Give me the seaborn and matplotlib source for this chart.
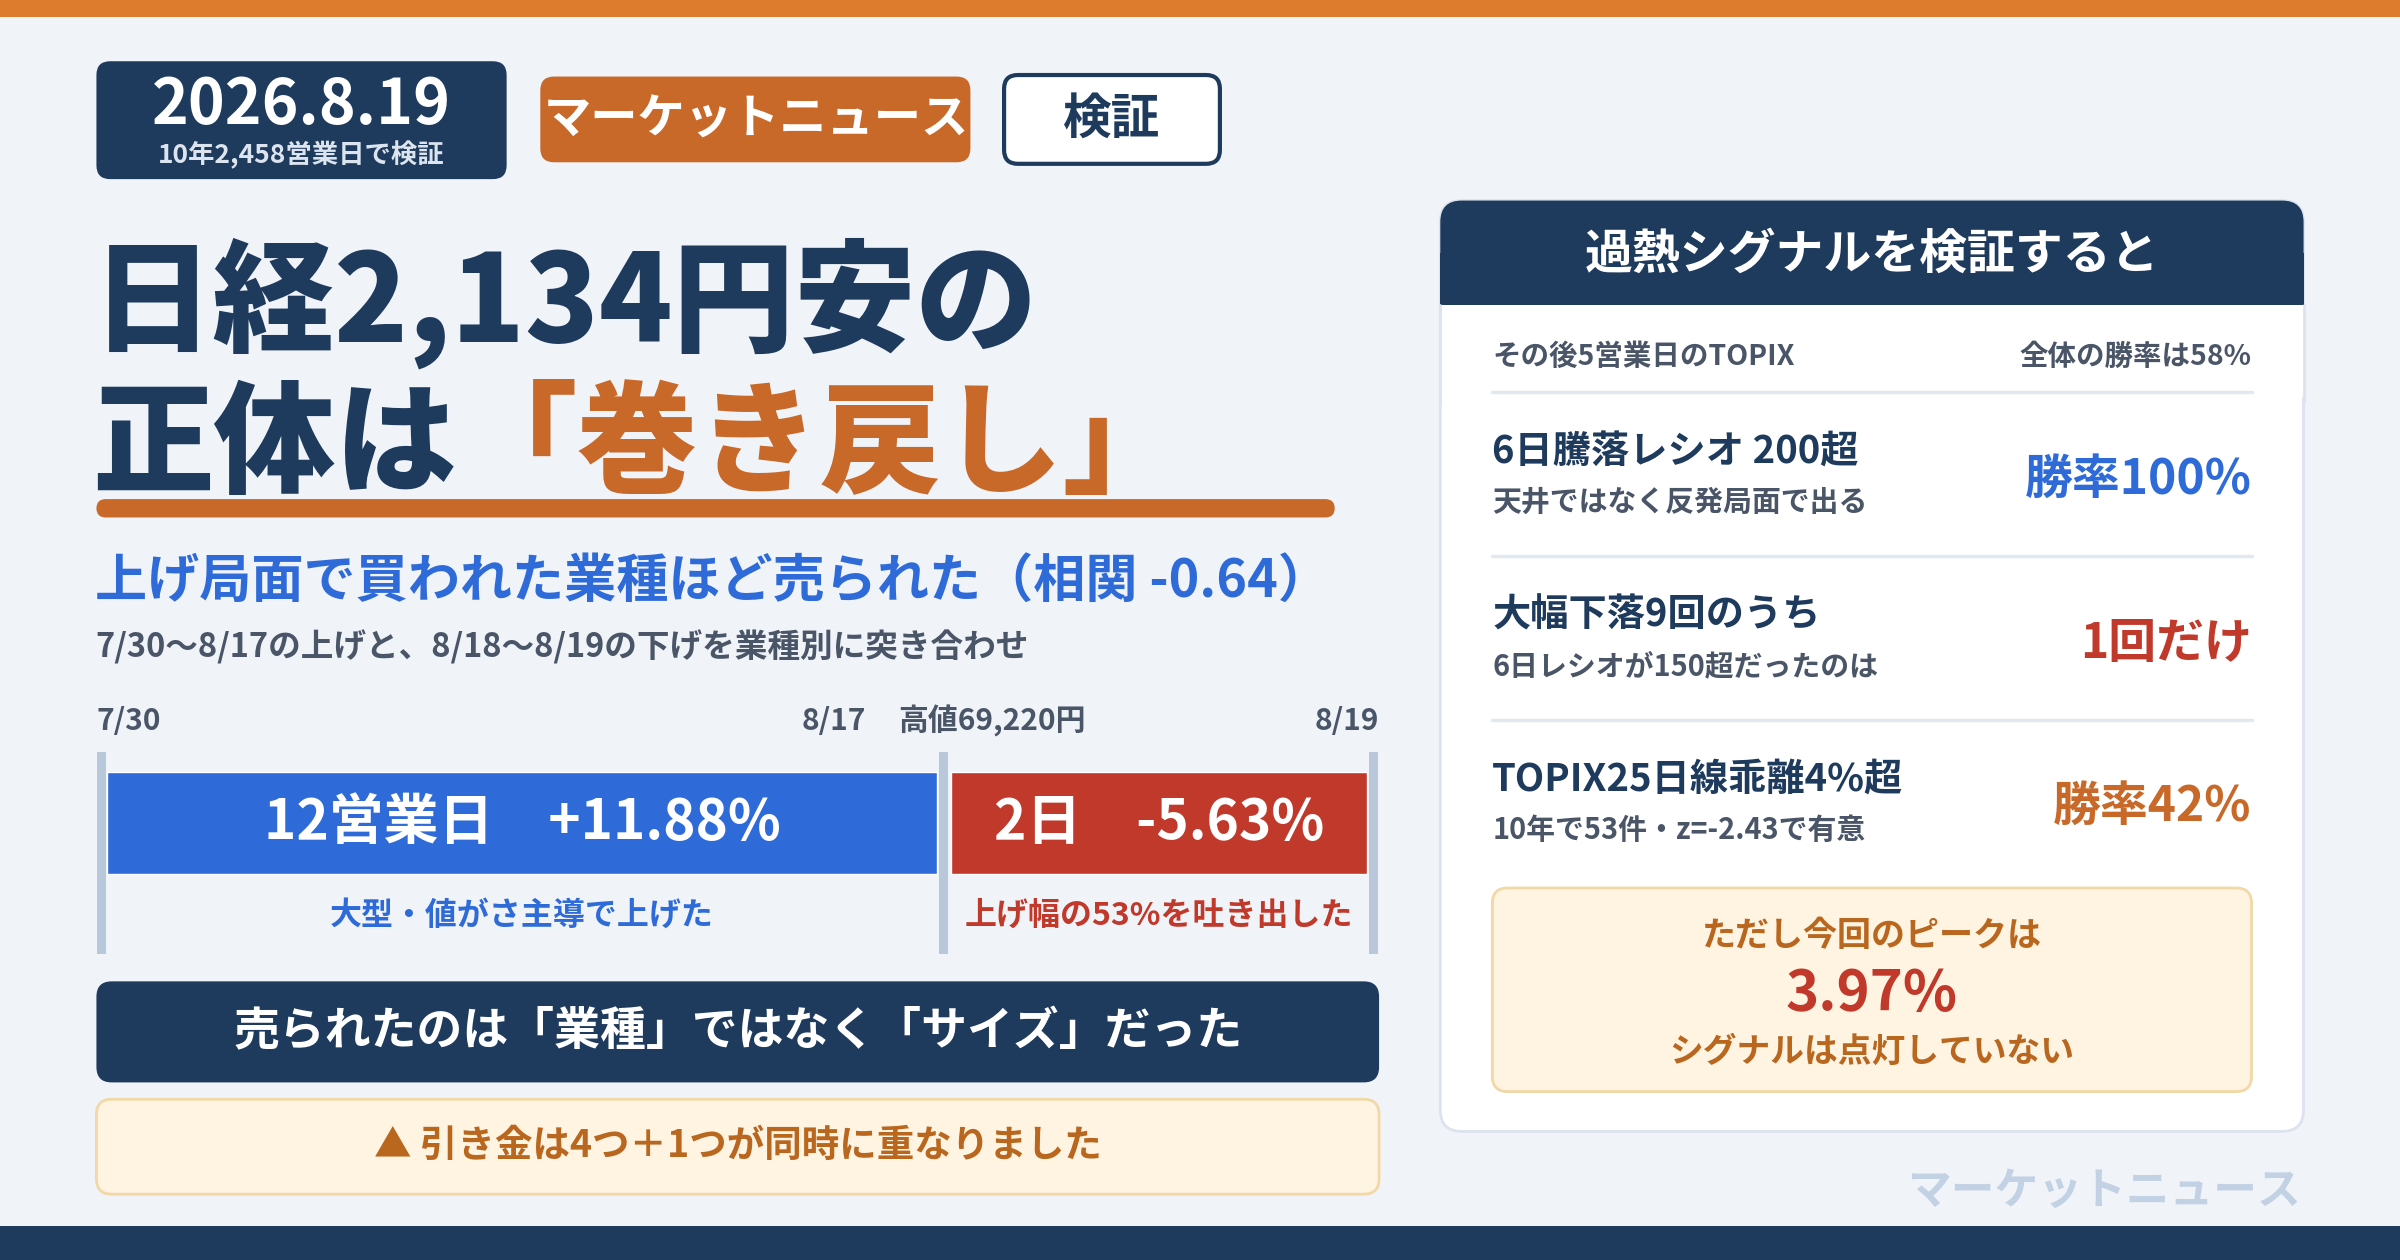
import matplotlib
matplotlib.use('Agg')
from matplotlib import pyplot as plt
from matplotlib.patches import FancyBboxPatch, Rectangle
import seaborn as sns

sns.set_theme(style='white')
plt.rcParams['font.family'] = ['Noto Sans CJK JP', 'DejaVu Sans']

# colours
BG = '#F0F4F9'
NAVY = '#1E3A5C'
ORANGE = '#C8692A'
TOPBAR = '#DC7C2C'
BLUE = '#2F6BD8'
RED = '#C0392B'
GREY = '#4A5568'
RULE = '#B8C7DA'
CREAM = '#FFF4E2'
CREAM_EDGE = '#F1D8A6'
CREAM_TEXT = '#B9661E'

# data
date_label = '2026.8.19'
date_note = '10年2,458営業日で検証'
brand = 'マーケットニュース'
tag = '検証'
title_1 = '日経2,134円安の'
title_2a = '正体は'
title_2b = '「巻き戻し」'
subtitle = '上げ局面で買われた業種ほど売られた（相関 -0.64）'
subnote = '7/30〜8/17の上げと、8/18〜8/19の下げを業種別に突き合わせ'
timeline_dates = ['7/30', '8/17', '8/19']
peak_label = '高値69,220円'
phase_days = ['12営業日', '2日']
phase_pct = [11.88, -5.63]
phase_notes = ['大型・値がさ主導で上げた', '上げ幅の53%を吐き出した']
conclusion = '売られたのは「業種」ではなく「サイズ」だった'
trigger = '▲ 引き金は4つ＋1つが同時に重なりました'

panel_title = '過熱シグナルを検証すると'
panel_left = 'その後5営業日のTOPIX'
panel_right = '全体の勝率は58%'
signal_titles = ['6日騰落レシオ 200超', '大幅下落9回のうち', 'TOPIX25日線乖離4%超']
signal_notes = ['天井ではなく反発局面で出る', '6日レシオが150超だったのは', '10年で53件・z=-2.43で有意']
signal_results = ['勝率100%', '1回だけ', '勝率42%']
signal_colors = [BLUE, RED, ORANGE]
peak_intro = 'ただし今回のピークは'
peak_value = 3.97
peak_outro = 'シグナルは点灯していない'

W, H = 1568, 823

fig = plt.figure(figsize=(24, 12.6), dpi=100)
fig.patch.set_facecolor(BG)
ax = fig.add_axes([0, 0, 1, 1])
ax.set_xlim(0, W)
ax.set_ylim(H, 0)
ax.axis('off')
ax.set_facecolor(BG)


def box(x0, y0, x1, y1, fc, ec='none', lw=0, r=8, z=1):
    p = FancyBboxPatch((x0 + r, y0 + r), (x1 - x0) - 2 * r, (y1 - y0) - 2 * r,
                       boxstyle='round,pad=%g' % r, fc=fc, ec=ec, lw=lw, zorder=z)
    ax.add_patch(p)
    return p


def txt(x, y, s, size, color, ha='left', va='center', weight='bold', z=5):
    return ax.text(x, y, s, fontsize=size, color=color, ha=ha, va=va,
                   fontweight=weight, zorder=z)


# top and bottom bands
ax.add_patch(Rectangle((0, 0), W, 11, fc=TOPBAR, ec='none', zorder=2))
ax.add_patch(Rectangle((0, 801), W, 22, fc=NAVY, ec='none', zorder=2))

# header chips
box(63, 40, 331, 117, NAVY, r=9)
txt(197, 69, date_label, 45, 'white', ha='center')
txt(197, 101, date_note, 19, '#DCE4EF', ha='center')
box(353, 50, 634, 106, ORANGE, r=9)
txt(494, 78, brand, 34, 'white', ha='center')
box(656, 49, 797, 107, 'white', ec=NAVY, lw=3, r=9)
txt(726, 78, tag, 35, NAVY, ha='center')

# headline
txt(60, 198, title_1, 87.5, NAVY, weight='heavy')
t2 = txt(60, 292, title_2a, 87.5, NAVY, weight='heavy')
ax.annotate(title_2b, xy=(1, 0.5), xycoords=t2, va='center', ha='left',
            fontsize=87.5, color=ORANGE, fontweight='heavy', zorder=5)
box(63, 326, 872, 338, ORANGE, r=6, z=4)

txt(62, 380, subtitle, 37.5, BLUE)
txt(62, 423, subnote, 23.5, GREY)

# timeline
txt(63, 471, timeline_dates[0], 21.5, GREY)
txt(566, 471, timeline_dates[1], 21.5, GREY, ha='right')
txt(587, 471, peak_label, 21.5, GREY)
txt(901, 471, timeline_dates[2], 21.5, GREY, ha='right')
for xr in [66.5, 616.5, 897.5]:
    ax.add_patch(Rectangle((xr - 3, 491), 6, 132, fc=RULE, ec='none', zorder=3))
lefts = [70, 621]
spans = [542, 272]
cols = [BLUE, RED]
ax.barh([537.5, 537.5], spans, left=lefts, height=67, color=cols, zorder=4)
for i in range(2):
    cx = lefts[i] + spans[i] / 2
    label = '%s　%+.2f%%' % (phase_days[i], phase_pct[i])
    txt(cx, 537, label, 39.5, 'white', ha='center')
    txt(cx, 598, phase_notes[i], 23, cols[i], ha='center')

# conclusion boxes
box(63, 641, 901, 707, NAVY, r=10)
txt(482, 674, conclusion, 33, 'white', ha='center')
box(63, 718, 901, 780, CREAM, ec=CREAM_EDGE, lw=2, r=10)
txt(482, 748, trigger, 27, CREAM_TEXT, ha='center')

# right panel
box(941, 131, 1505, 739, 'white', ec='#DCE3EE', lw=2, r=14, z=1)
hdr = FancyBboxPatch((941 + 14, 131 + 14), 564 - 28, 100, boxstyle='round,pad=14',
                     fc=NAVY, ec='none', zorder=2)
ax.add_patch(hdr)
ax.add_patch(Rectangle((941, 165), 564, 34, fc=NAVY, ec='none', zorder=2))
ax.add_patch(Rectangle((941, 199), 564, 60, fc='white', ec='none', zorder=2))
ax.plot([941, 941], [199, 262], color='#DCE3EE', lw=2, zorder=3)
ax.plot([1505, 1505], [199, 262], color='#DCE3EE', lw=2, zorder=3)
txt(1223, 166, panel_title, 34.5, 'white', ha='center')

txt(975, 233, panel_left, 20.5, GREY)
txt(1471, 233, panel_right, 20.5, GREY, ha='right')
for yl in [256, 363, 470]:
    ax.plot([975, 1471], [yl, yl], color='#E2E8F0', lw=2.5, zorder=3)
for i in range(3):
    y0 = 256 + 107 * i
    txt(975, y0 + 39, signal_titles[i], 27.5, NAVY)
    txt(975, y0 + 72, signal_notes[i], 20.8, GREY)
    txt(1471, y0 + 57, signal_results[i], 34.5, signal_colors[i], ha='right')

box(975, 580, 1471, 713, CREAM, ec=CREAM_EDGE, lw=2, r=10, z=3)
txt(1223, 611, peak_intro, 24.5, CREAM_TEXT, ha='center')
txt(1223, 649, '%.2f%%' % peak_value, 40.5, RED, ha='center')
txt(1223, 687, peak_outro, 24.3, CREAM_TEXT, ha='center')

# watermark
txt(1503, 778, brand, 31.5, '#C3D1E4', ha='right')

plt.savefig('out.png', dpi=100, facecolor=BG)
